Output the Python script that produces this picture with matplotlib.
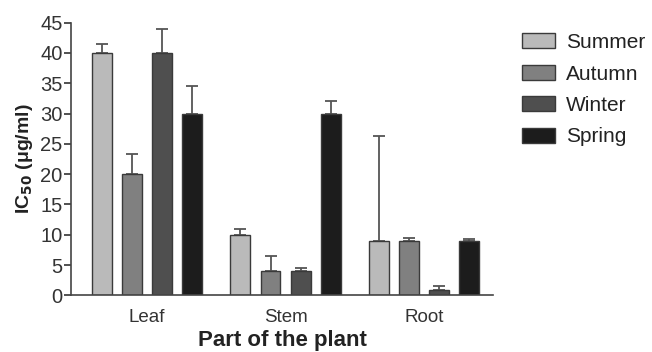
import matplotlib.pyplot as plt
import numpy as np

plt.rcParams['font.family'] = ['Liberation Sans', 'DejaVu Sans']

parts = ['Leaf', 'Stem', 'Root']
seasons = ['Summer', 'Autumn', 'Winter', 'Spring']
# IC50 values (ug/ml) per season, order: Leaf, Stem, Root
summer = [40, 10, 9]
autumn = [20, 4, 9]
winter = [40, 4, 0.9]
spring = [30, 30, 9]
# upper error bars
summer_err = [1.5, 1.0, 17.3]
autumn_err = [3.4, 2.5, 0.4]
winter_err = [4.0, 0.5, 0.6]
spring_err = [4.5, 2.0, 0.3]

colors = ['#bababa', '#808080', '#4f4f4f', '#1c1c1c']

values = [summer, autumn, winter, spring]
errors = [summer_err, autumn_err, winter_err, spring_err]

fig = plt.figure(figsize=(6.52, 3.52), dpi=100)
ax = fig.add_axes([71 / 652, 1 - 295.3 / 352, (493 - 71) / 652, (295.3 - 22.7) / 352])

x = np.arange(len(parts))
pitch = 0.217
width = 0.144
for i, (vals, errs) in enumerate(zip(values, errors)):
    pos = x + (i - 1.5) * pitch
    ax.bar(pos, vals, width, color=colors[i], edgecolor='#3a3a3a', linewidth=1.0,
           label=seasons[i], zorder=2)
    ax.errorbar(pos, vals, yerr=[np.zeros(len(errs)), errs], fmt='none',
                ecolor='#555555', elinewidth=1.3, capsize=4.5, capthick=1.3, zorder=1)

ax.set_xlim(-0.549, 2.498)
ax.set_ylim(0, 45)
ax.set_yticks(np.arange(0, 46, 5))
ax.set_xticks(x)
ax.set_xticklabels(parts, fontsize=13.5, color='#333333')
ax.tick_params(axis='x', length=0, pad=10)
ax.tick_params(axis='y', labelsize=14.5, length=5, width=1.2, colors='#333333', pad=1)
ax.spines['top'].set_visible(False)
ax.spines['right'].set_visible(False)
for s in ['left', 'bottom']:
    ax.spines[s].set_linewidth(1.2)
    ax.spines[s].set_color('#444444')

ax.set_ylabel('IC$_{\\mathbf{50}}$ (\u03bcg/ml)', fontsize=14, fontweight='bold', color='#222222', labelpad=4)
ax.set_xlabel('Part of the plant', fontsize=16, fontweight='bold', color='#222222', labelpad=3)

fig.legend(loc='upper left', bbox_to_anchor=(522 / 652, 1 - 33 / 352), frameon=False,
           fontsize=15, handlelength=1.6, handleheight=0.75, labelspacing=0.6,
           handletextpad=0.5, borderaxespad=0, borderpad=0, labelcolor='#222222')

fig.savefig('out.png', dpi=100)
